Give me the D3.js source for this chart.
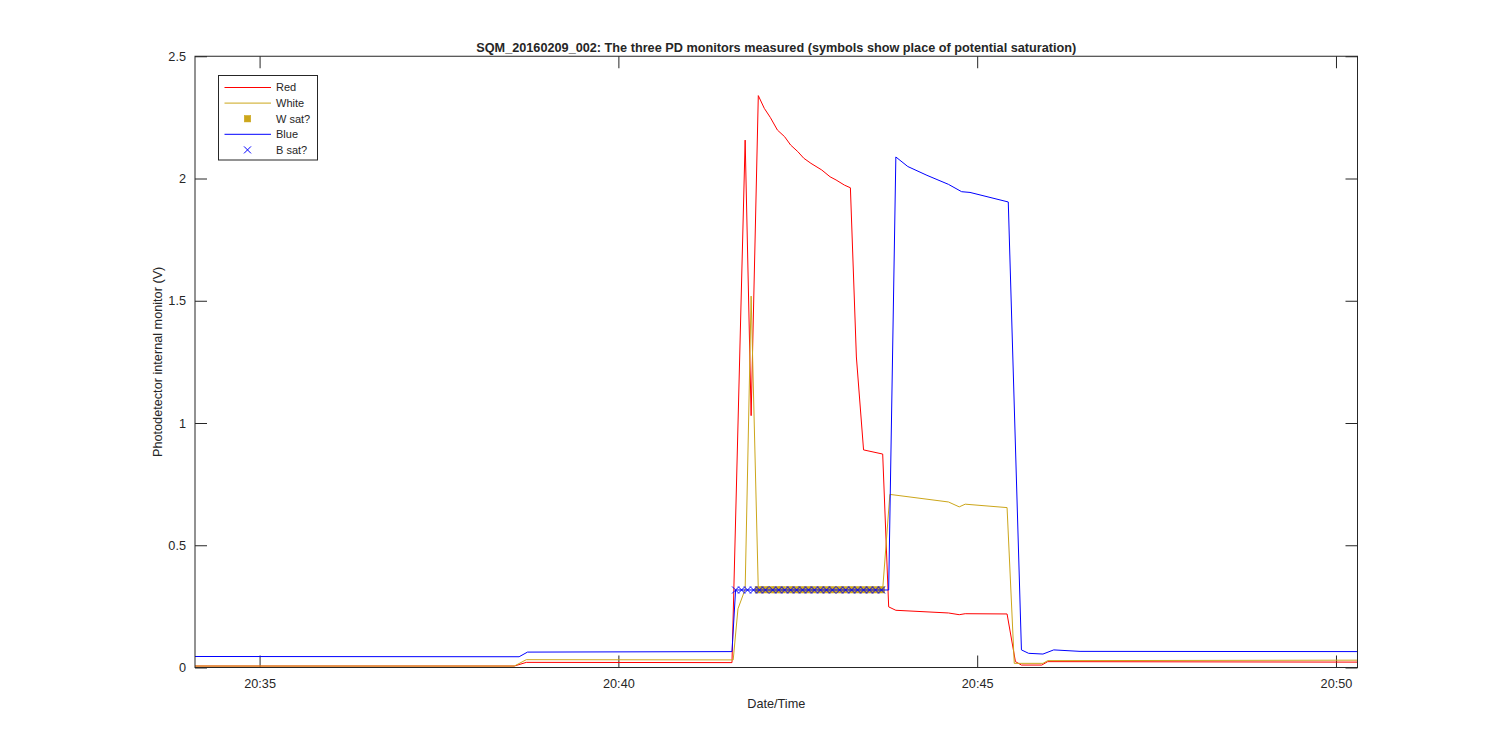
<!DOCTYPE html>
<html>
<head>
<meta charset="utf-8">
<script src="https://cdn.jsdelivr.net/npm/d3@7"></script>
<style>
  html, body { margin: 0; padding: 0; background: #ffffff; }
  svg { display: block; }
  text { font-family: "Liberation Sans", Arial, Helvetica, sans-serif; fill: #262626; }
</style>
</head>
<body>
<svg id="chart" width="1500" height="750"></svg>
<script>
// ---------------- DATA ----------------
const titleText = "SQM_20160209_002: The three PD monitors measured (symbols show place of potential saturation)";
const xLabelText = "Date/Time";
const yLabelText = "Photodetector internal monitor (V)";

const xDomain = ["20:34:06", "20:50:18"];
const yDomain = [0, 2.5];
const xTickTimes = ["20:35:00", "20:40:00", "20:45:00", "20:50:00"];
const xTickLabels = ["20:35", "20:40", "20:45", "20:50"];
const yTicks = [0, 0.5, 1, 1.5, 2, 2.5];
const yTickLabels = ["0", "0.5", "1", "1.5", "2", "2.5"];

const redTimes = ["20:34:06","20:38:33","20:38:43","20:41:35","20:41:46","20:41:51","20:41:57","20:42:02","20:42:07","20:42:13","20:42:19","20:42:24","20:42:30","20:42:35","20:42:41","20:42:50","20:42:57","20:43:02","20:43:09","20:43:14","20:43:19","20:43:25","20:43:41","20:43:46","20:43:52","20:44:36","20:44:45","20:44:50","20:45:25","20:45:32","20:45:37","20:45:54","20:45:59","20:50:18"];
const redVolts = [0.006,0.006,0.021,0.020,2.157,1.03,2.339,2.287,2.250,2.198,2.171,2.137,2.110,2.083,2.062,2.035,2.007,1.994,1.973,1.962,1.27,0.89,0.873,0.248,0.234,0.223,0.216,0.220,0.219,0.024,0.010,0.010,0.024,0.022];

const whiteTimes = ["20:34:06","20:38:33","20:38:43","20:41:36","20:41:40","20:41:46","20:41:51","20:41:57","20:43:41","20:43:47","20:44:36","20:44:45","20:44:50","20:45:25","20:45:31","20:45:55","20:45:59","20:50:18"];
const whiteVolts = [0.006,0.006,0.032,0.031,0.24,0.32,1.519,0.318,0.320,0.708,0.677,0.657,0.668,0.654,0.017,0.017,0.028,0.030];

const blueTimes = ["20:34:06","20:38:37","20:38:44","20:41:35","20:41:38","20:43:46","20:43:52","20:44:02","20:44:18","20:44:36","20:44:47","20:44:54","20:45:26","20:45:37","20:45:43","20:45:55","20:46:04","20:46:26","20:50:18"];
const blueVolts = [0.045,0.044,0.063,0.065,0.317,0.317,2.088,2.049,2.013,1.976,1.946,1.943,1.904,0.072,0.058,0.055,0.072,0.066,0.065];

const wSatTimes = ["20:41:57","20:42:02","20:42:07","20:42:12","20:42:17","20:42:23","20:42:28","20:42:33","20:42:38","20:42:43","20:42:49","20:42:54","20:42:59","20:43:04","20:43:09","20:43:15","20:43:20","20:43:25","20:43:30","20:43:35","20:43:40"];
const wSatVolts = [0.318,0.318,0.318,0.318,0.318,0.318,0.318,0.318,0.318,0.318,0.318,0.318,0.318,0.318,0.318,0.318,0.318,0.318,0.318,0.318,0.318];

const bSatTimes = ["20:41:38","20:41:43","20:41:48","20:41:53","20:41:58","20:42:03","20:42:09","20:42:14","20:42:19","20:42:24","20:42:29","20:42:34","20:42:39","20:42:44","20:42:49","20:42:54","20:42:59","20:43:05","20:43:10","20:43:15","20:43:20","20:43:25","20:43:30","20:43:35","20:43:40"];
const bSatVolts = [0.317,0.317,0.317,0.317,0.317,0.317,0.317,0.317,0.317,0.317,0.317,0.317,0.317,0.317,0.317,0.317,0.317,0.317,0.317,0.317,0.317,0.317,0.317,0.317,0.317];

const legendLabels = ["Red", "White", "W sat?", "Blue", "B sat?"];
const legendKinds = ["line", "line", "square", "line", "cross"];

// ---------------- STYLE / LAYOUT ----------------
const C_RED = "#ff0000", C_GOLD = "#cca61a", C_BLUE = "#0000ff", C_AX = "#262626";
const M = { left: 195, top: 56.25, width: 1162.5, height: 611.25 };
const FS = "12.7px";

const parseT = d3.timeParse("%H:%M:%S");
const svg = d3.select("#chart");

const x = d3.scaleTime().domain(xDomain.map(parseT)).range([M.left, M.left + M.width]);
const y = d3.scaleLinear().domain(yDomain).range([M.top + M.height, M.top]);

const zip = (ts, vs) => ts.map((t, i) => ({ t: parseT(t), v: vs[i] }));
const redData = zip(redTimes, redVolts);
const whiteData = zip(whiteTimes, whiteVolts);
const blueData = zip(blueTimes, blueVolts);
const wSatData = zip(wSatTimes, wSatVolts);
const bSatData = zip(bSatTimes, bSatVolts);

// ---------------- AXES ----------------
const tickLen = 12;
const xTickDates = xTickTimes.map(parseT);
const xFmt = d => xTickLabels[xTickDates.findIndex(t => +t === +d)];
const yFmt = d => yTickLabels[yTicks.indexOf(d)];

const gx = svg.append("g").attr("transform", `translate(0,${M.top + M.height})`)
  .call(d3.axisBottom(x).tickValues(xTickDates).tickFormat(xFmt).tickSizeInner(-tickLen).tickSizeOuter(0).tickPadding(11.5));
const gxTop = svg.append("g").attr("transform", `translate(0,${M.top})`)
  .call(d3.axisTop(x).tickValues(xTickDates).tickFormat("").tickSizeInner(-tickLen).tickSizeOuter(0));
const gy = svg.append("g").attr("transform", `translate(${M.left},0)`)
  .call(d3.axisLeft(y).tickValues(yTicks).tickFormat(yFmt).tickSizeInner(-tickLen).tickSizeOuter(0).tickPadding(9));
const gyR = svg.append("g").attr("transform", `translate(${M.left + M.width},0)`)
  .call(d3.axisRight(y).tickValues(yTicks).tickFormat("").tickSizeInner(-tickLen).tickSizeOuter(0));

[gx, gxTop, gy, gyR].forEach(g => {
  g.select(".domain").remove();
  g.selectAll(".tick line").attr("stroke", C_AX).attr("stroke-width", 1);
  g.selectAll(".tick text").attr("fill", C_AX).style("font-size", FS)
    .style("font-family", "'Liberation Sans', Arial, sans-serif");
});

// ---------------- LINES ----------------
const line = d3.line().x(d => x(d.t)).y(d => y(d.v));
const plotG = svg.append("g");

plotG.append("path").datum(redData).attr("d", line)
  .attr("fill", "none").attr("stroke", C_RED).attr("stroke-width", 1);
plotG.append("path").datum(whiteData).attr("d", line)
  .attr("fill", "none").attr("stroke", C_GOLD).attr("stroke-width", 1);

const sq = 6.5;
plotG.selectAll("rect.wsat").data(wSatData).enter().append("rect")
  .attr("class", "wsat")
  .attr("x", d => x(d.t) - sq / 2).attr("y", d => y(d.v) - sq / 2)
  .attr("width", sq).attr("height", sq)
  .attr("fill", C_GOLD).attr("stroke", C_GOLD).attr("stroke-width", 0.5);

plotG.append("path").datum(blueData).attr("d", line)
  .attr("fill", "none").attr("stroke", C_BLUE).attr("stroke-width", 1);

const cr = 3.5;
const crossPath = (cx, cy) => `M${cx - cr},${cy - cr}L${cx + cr},${cy + cr}M${cx - cr},${cy + cr}L${cx + cr},${cy - cr}`;
plotG.selectAll("path.bsat").data(bSatData).enter().append("path")
  .attr("class", "bsat")
  .attr("d", d => crossPath(x(d.t), y(d.v)))
  .attr("fill", "none").attr("stroke", C_BLUE).attr("stroke-width", 1);

// ---------------- BOX ----------------
svg.append("rect").attr("x", M.left).attr("y", M.top).attr("width", M.width).attr("height", M.height)
  .attr("fill", "none").attr("stroke", C_AX).attr("stroke-width", 1);

// ---------------- TEXTS ----------------
svg.append("text").attr("x", M.left + M.width / 2).attr("y", 51.5)
  .attr("text-anchor", "middle").style("font-size", FS).style("font-weight", "bold")
  .text(titleText);
svg.append("text").attr("x", M.left + M.width / 2).attr("y", 707.5)
  .attr("text-anchor", "middle").style("font-size", FS).text(xLabelText);
svg.append("text").attr("transform", `translate(161.5,${M.top + M.height / 2}) rotate(-90)`)
  .attr("text-anchor", "middle").style("font-size", FS).text(yLabelText);

// ---------------- LEGEND ----------------
const lg = svg.append("g");
const L = { x: 218.5, y: 75.5, w: 99, h: 84.5 };
lg.append("rect").attr("x", L.x).attr("y", L.y).attr("width", L.w).attr("height", L.h)
  .attr("fill", "#ffffff").attr("stroke", C_AX).attr("stroke-width", 1);
const legendColors = [C_RED, C_GOLD, C_GOLD, C_BLUE, C_BLUE];
legendLabels.forEach((lab, i) => {
  const cy = 87.5 + i * 15.6;
  const kind = legendKinds[i];
  if (kind === "line") {
    lg.append("line").attr("x1", 224.5).attr("x2", 271).attr("y1", cy).attr("y2", cy)
      .attr("stroke", legendColors[i]).attr("stroke-width", 1);
  } else if (kind === "square") {
    lg.append("rect").attr("x", 247.5 - sq / 2).attr("y", cy - sq / 2).attr("width", sq).attr("height", sq)
      .attr("fill", legendColors[i]).attr("stroke", legendColors[i]).attr("stroke-width", 0.5);
  } else {
    lg.append("path").attr("d", crossPath(247.5, cy)).attr("fill", "none")
      .attr("stroke", legendColors[i]).attr("stroke-width", 1);
  }
  lg.append("text").attr("x", 276).attr("y", cy).attr("dy", "0.35em")
    .style("font-size", "11px").text(lab);
});
</script>
</body>
</html>
